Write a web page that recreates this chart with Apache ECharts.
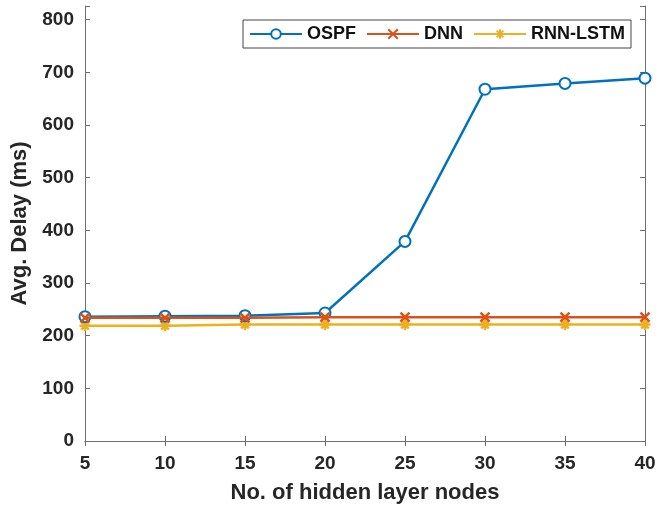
<!DOCTYPE html>
<html><head><meta charset="utf-8">
<script src="https://cdn.jsdelivr.net/npm/echarts@6/dist/echarts.min.js"></script>
<style>html,body{margin:0;padding:0;background:#fff}#c{width:671px;height:509px}</style>
</head><body><div id="c"></div>
<script>
const nodes = [5, 10, 15, 20, 25, 30, 35, 40];
const ospf = [236, 237, 238, 243, 379, 668, 679, 689];
const dnn = [234, 234, 234, 235, 235, 235, 235, 235];
const rnnLstm = [219, 219, 221, 221, 221, 221, 221, 221];
const yTicks = [0, 100, 200, 300, 400, 500, 600, 700, 800];

const FONT = '"Liberation Sans", Arial, sans-serif';
const axisCol = '#6e6e6e';
const crossPath = 'path://M0,0L10,10M10,0L0,10';
const starPath = 'path://M5,0L5,10M0,5L10,5M1.5,1.5L8.5,8.5M8.5,1.5L1.5,8.5';

function pairs(ys){ return nodes.map((x,i)=>[x, ys[i]]); }

const chart = echarts.init(document.getElementById('c'), null, {renderer:'canvas'});
const lbl = {fontFamily: FONT, fontWeight:'bold', fontSize:19, color:'#262626'};
chart.setOption({
  animation:false,
  backgroundColor:'#fff',
  grid:{left:85, right:26, top:6, bottom:66, containLabel:false},
  legend:{
    left:243, top:20, orient:'horizontal',
    backgroundColor:'#fff', borderColor:'#444', borderWidth:1,
    padding:[5,6,5,6], itemGap:10, itemWidth:52, itemHeight:12,
    textStyle:{fontFamily:FONT, fontWeight:'bold', fontSize:18, color:'#111'},
    data:['OSPF','DNN','RNN-LSTM']
  },
  xAxis:[{
    type:'value', min:5, max:40, interval:5,
    name:'No. of hidden layer nodes', nameLocation:'middle', nameGap:41,
    nameTextStyle:{fontFamily:FONT, fontWeight:'bold', fontSize:22, color:'#262626'},
    axisLine:{lineStyle:{color:axisCol, width:1}},
    axisTick:{inside:true, length:5, lineStyle:{color:axisCol}},
    axisLabel:Object.assign({margin:13}, lbl),
    splitLine:{show:false}
  },{
    type:'value', position:'top', min:5, max:40, interval:5,
    axisLine:{show:true, lineStyle:{color:axisCol, width:1}},
    axisTick:{inside:true, length:5, lineStyle:{color:axisCol}},
    axisLabel:{show:false}, splitLine:{show:false}
  }],
  yAxis:[{
    type:'value', min:0, max:826, interval:100,
    name:'Avg. Delay (ms)', nameLocation:'middle', nameGap:50,
    nameTextStyle:{fontFamily:FONT, fontWeight:'bold', fontSize:22, color:'#262626'},
    axisLine:{show:true, lineStyle:{color:axisCol, width:1}},
    axisTick:{inside:true, length:5, lineStyle:{color:axisCol}},
    axisLabel:Object.assign({margin:11, formatter:v=> yTicks.includes(v)? String(v):''}, lbl),
    splitLine:{show:false}
  },{
    type:'value', position:'right', min:0, max:826, interval:100,
    axisLine:{show:true, lineStyle:{color:axisCol, width:1}},
    axisTick:{inside:true, length:5, lineStyle:{color:axisCol}},
    axisLabel:{show:false}, splitLine:{show:false}
  }],
  series:[
    {name:'OSPF', type:'line', data:pairs(ospf), symbol:'emptyCircle', symbolSize:11,
     lineStyle:{color:'#0072BD', width:2.5},
     itemStyle:{color:'#0072BD', borderColor:'#0072BD', borderWidth:2.5}, z:3},
    {name:'DNN', type:'line', data:pairs(dnn), symbol:crossPath, symbolSize:9,
     lineStyle:{color:'#D95319', width:2.5},
     itemStyle:{color:'#D95319', borderColor:'#D95319', borderWidth:2.5}, z:4},
    {name:'RNN-LSTM', type:'line', data:pairs(rnnLstm), symbol:starPath, symbolSize:11,
     lineStyle:{color:'#EDB120', width:2.5},
     itemStyle:{color:'#EDB120', borderColor:'#EDB120', borderWidth:2.5}, z:2}
  ]
});
</script></body></html>
